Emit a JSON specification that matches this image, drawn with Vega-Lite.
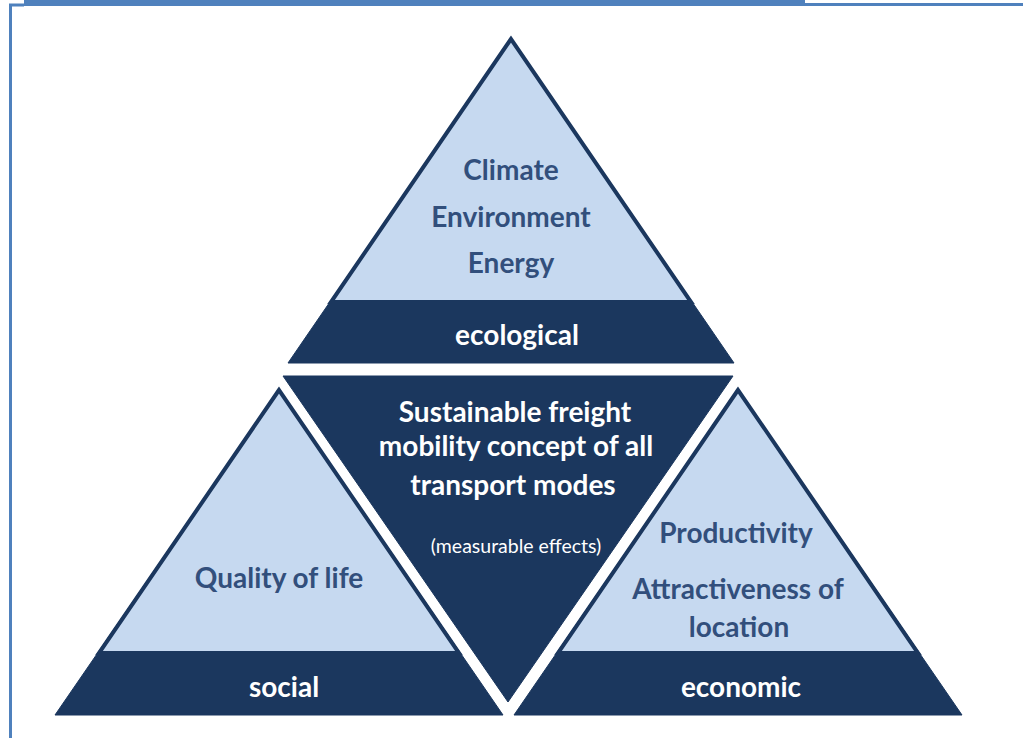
{
  "$schema": "https://vega.github.io/schema/vega-lite/v6.json",
  "width": 1023,
  "height": 738,
  "padding": 0,
  "autosize": {"type": "none"},
  "background": "white",
  "config": {"view": {"stroke": null}},
  "datasets": {
    "full": [
      {"shape": "top", "i": 1, "x": 511, "y": 38},
      {"shape": "top", "i": 2, "x": 288, "y": 363},
      {"shape": "top", "i": 3, "x": 734, "y": 363},
      {"shape": "left", "i": 1, "x": 279, "y": 389},
      {"shape": "left", "i": 2, "x": 55, "y": 715},
      {"shape": "left", "i": 3, "x": 503, "y": 715},
      {"shape": "right", "i": 1, "x": 738, "y": 389},
      {"shape": "right", "i": 2, "x": 514, "y": 715},
      {"shape": "right", "i": 3, "x": 962, "y": 715},
      {"shape": "center", "i": 1, "x": 283, "y": 376},
      {"shape": "center", "i": 2, "x": 733, "y": 376},
      {"shape": "center", "i": 3, "x": 508, "y": 702}
    ],
    "light": [
      {"shape": "top", "i": 1, "x": 511, "y": 39},
      {"shape": "top", "i": 2, "x": 331, "y": 302},
      {"shape": "top", "i": 3, "x": 691, "y": 302},
      {"shape": "left", "i": 1, "x": 279, "y": 390},
      {"shape": "left", "i": 2, "x": 99, "y": 653},
      {"shape": "left", "i": 3, "x": 459, "y": 653},
      {"shape": "right", "i": 1, "x": 738, "y": 390},
      {"shape": "right", "i": 2, "x": 558, "y": 653},
      {"shape": "right", "i": 3, "x": 918, "y": 653}
    ],
    "bar": [
      {"x": 24, "x2": 805, "y": 3, "y2": 3}
    ],
    "thin": [
      {"x": 805, "x2": 1023, "y": 4.5, "y2": 4.5},
      {"x": 10.5, "x2": 10.5, "y": 4, "y2": 738},
      {"x": 9, "x2": 24, "y": 5, "y2": 5}
    ],
    "navyText": [
      {"t": "Climate", "x": 511, "y": 172},
      {"t": "Environment", "x": 511, "y": 219},
      {"t": "Energy", "x": 511, "y": 265},
      {"t": "Quality of life", "x": 279, "y": 580},
      {"t": "Productivity", "x": 736, "y": 535},
      {"t": "Attractiveness of", "x": 738, "y": 591},
      {"t": "location", "x": 739, "y": 629}
    ],
    "whiteText": [
      {"t": "ecological", "x": 517, "y": 337},
      {"t": "Sustainable freight", "x": 515, "y": 414},
      {"t": "mobility concept of all", "x": 516, "y": 448},
      {"t": "transport modes", "x": 513, "y": 487},
      {"t": "social", "x": 284, "y": 689},
      {"t": "economic", "x": 741, "y": 689}
    ],
    "smallText": [
      {"t": "(measurable effects)", "x": 516, "y": 547}
    ]
  },
  "layer": [
    {
      "data": {"name": "bar"},
      "mark": {"type": "rule", "stroke": "#4F81BD", "strokeWidth": 6},
      "encoding": {
        "x": {"field": "x", "type": "quantitative", "scale": {"domain": [0, 1023], "nice": false, "zero": false}, "axis": null},
        "y": {"field": "y", "type": "quantitative", "scale": {"domain": [0, 738], "nice": false, "zero": false, "reverse": true}, "axis": null},
        "x2": {"field": "x2"},
        "y2": {"field": "y2"}
      }
    },
    {
      "data": {"name": "thin"},
      "mark": {"type": "rule", "stroke": "#4F81BD", "strokeWidth": 3},
      "encoding": {
        "x": {"field": "x", "type": "quantitative", "scale": {"domain": [0, 1023], "nice": false, "zero": false}, "axis": null},
        "y": {"field": "y", "type": "quantitative", "scale": {"domain": [0, 738], "nice": false, "zero": false, "reverse": true}, "axis": null},
        "x2": {"field": "x2"},
        "y2": {"field": "y2"}
      }
    },
    {
      "data": {"name": "full"},
      "mark": {"type": "line", "interpolate": "linear-closed", "fill": "#1B375E", "stroke": "#1B375E", "strokeWidth": 1, "strokeJoin": "miter"},
      "encoding": {
        "x": {"field": "x", "type": "quantitative", "scale": {"domain": [0, 1023], "nice": false, "zero": false}, "axis": null},
        "y": {"field": "y", "type": "quantitative", "scale": {"domain": [0, 738], "nice": false, "zero": false, "reverse": true}, "axis": null},
        "detail": {"field": "shape", "type": "nominal"},
        "order": {"field": "i", "type": "quantitative"}
      }
    },
    {
      "data": {"name": "light"},
      "mark": {"type": "line", "interpolate": "linear-closed", "fill": "#C6D9F0", "stroke": "#1B375E", "strokeWidth": 4, "strokeJoin": "miter"},
      "encoding": {
        "x": {"field": "x", "type": "quantitative", "scale": {"domain": [0, 1023], "nice": false, "zero": false}, "axis": null},
        "y": {"field": "y", "type": "quantitative", "scale": {"domain": [0, 738], "nice": false, "zero": false, "reverse": true}, "axis": null},
        "detail": {"field": "shape", "type": "nominal"},
        "order": {"field": "i", "type": "quantitative"}
      }
    },
    {
      "data": {"name": "navyText"},
      "mark": {"type": "text", "font": "Lato", "fontWeight": "bold", "fontSize": 28, "fill": "#324F7C", "align": "center", "baseline": "middle"},
      "encoding": {
        "x": {"field": "x", "type": "quantitative", "scale": {"domain": [0, 1023], "nice": false, "zero": false}, "axis": null},
        "y": {"field": "y", "type": "quantitative", "scale": {"domain": [0, 738], "nice": false, "zero": false, "reverse": true}, "axis": null},
        "text": {"field": "t"}
      }
    },
    {
      "data": {"name": "whiteText"},
      "mark": {"type": "text", "font": "Lato", "fontWeight": "bold", "fontSize": 28, "fill": "white", "align": "center", "baseline": "middle"},
      "encoding": {
        "x": {"field": "x", "type": "quantitative", "scale": {"domain": [0, 1023], "nice": false, "zero": false}, "axis": null},
        "y": {"field": "y", "type": "quantitative", "scale": {"domain": [0, 738], "nice": false, "zero": false, "reverse": true}, "axis": null},
        "text": {"field": "t"}
      }
    },
    {
      "data": {"name": "smallText"},
      "mark": {"type": "text", "font": "Lato", "fontSize": 19.5, "fill": "white", "align": "center", "baseline": "middle"},
      "encoding": {
        "x": {"field": "x", "type": "quantitative", "scale": {"domain": [0, 1023], "nice": false, "zero": false}, "axis": null},
        "y": {"field": "y", "type": "quantitative", "scale": {"domain": [0, 738], "nice": false, "zero": false, "reverse": true}, "axis": null},
        "text": {"field": "t"}
      }
    }
  ]
}
